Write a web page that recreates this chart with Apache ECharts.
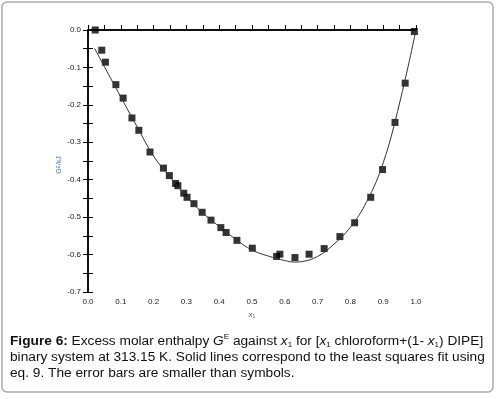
<!DOCTYPE html>
<html lang="en">

<head>
    <meta charset="UTF-8">
    <style>
    html,
    body {
        height: 100%;
        margin: 0;
        background: #fff;
    }
  </style>
</head>

<body>
<div id="chart" style="width:500px;height:399px;"></div>
<script src="https://cdn.jsdelivr.net/npm/echarts@6/dist/echarts.min.js"></script>
<script>
    // measured points: x1, G^E (kJ)
    var xPoints = [0.022, 0.042, 0.053, 0.085, 0.107, 0.134, 0.155, 0.189, 0.230, 0.248,
        0.267, 0.274, 0.292, 0.302, 0.323, 0.348, 0.375, 0.405, 0.421, 0.454,
        0.501, 0.575, 0.585, 0.631, 0.674, 0.720, 0.768, 0.813, 0.862, 0.898,
        0.936, 0.967, 0.995];
    var gPoints = [0.000, -0.054, -0.086, -0.146, -0.182, -0.235, -0.268, -0.326, -0.369, -0.389,
        -0.410, -0.416, -0.436, -0.447, -0.464, -0.487, -0.508, -0.528, -0.541, -0.562,
        -0.583, -0.605, -0.599, -0.608, -0.599, -0.584, -0.552, -0.515, -0.447, -0.373,
        -0.247, -0.142, -0.004];

    // fitted curve
    var xFit = [0.02, 0.05, 0.10, 0.15, 0.20, 0.25, 0.30, 0.35, 0.40, 0.45,
        0.50, 0.55, 0.60, 0.63, 0.65, 0.70, 0.75, 0.80, 0.85, 0.90, 0.95, 1.00];
    var gFit = [-0.049, -0.098, -0.179, -0.259, -0.337, -0.393, -0.445, -0.489, -0.525, -0.559,
        -0.588, -0.604, -0.616, -0.620, -0.619, -0.605, -0.572, -0.527, -0.458, -0.355, -0.195, 0.000];

    var pts = xPoints.map(function (x, i) { return [x, gPoints[i]]; });
    var fit = xFit.map(function (x, i) { return [x, gFit[i]]; });

    var tickFont = { fontFamily: 'Liberation Sans', fontSize: 8, color: '#222' };

    var myChart = echarts.init(document.getElementById('chart'));
    myChart.setOption({
        animation: false,
        grid: { left: 88, top: 30, width: 328, height: 262 },
        xAxis: [{
            type: 'value', min: 0, max: 1, interval: 0.1,
            position: 'bottom',
            axisLine: { lineStyle: { color: '#000', width: 1.5 } },
            axisTick: { inside: true, length: 5, lineStyle: { color: '#000' } },
            minorTick: { show: true, splitNumber: 2, length: 5, lineStyle: { color: '#000' } },
            splitLine: { show: false },
            axisLabel: Object.assign({ margin: 6, formatter: function (v) { return v.toFixed(1); } }, tickFont),
            name: '{i|x}{s|1}',
            nameLocation: 'middle',
            nameGap: 18,
            nameTextStyle: {
                rich: {
                    i: { fontFamily: 'Liberation Sans', fontStyle: 'italic', fontSize: 8, color: '#555' },
                    s: { fontFamily: 'Liberation Sans', fontSize: 5, color: '#555', verticalAlign: 'bottom', padding: [4, 0, 0, 0] }
                }
            }
        }, {
            type: 'value', min: 0, max: 1, position: 'top',
            axisLine: { lineStyle: { color: '#000', width: 1.5 } },
            axisTick: { show: false }, axisLabel: { show: false }, splitLine: { show: false }
        }],
        yAxis: [{
            type: 'value', min: -0.7, max: 0, interval: 0.1,
            position: 'left',
            axisLine: { lineStyle: { color: '#000', width: 1.5 } },
            axisTick: { inside: true, length: 5, lineStyle: { color: '#000' } },
            minorTick: { show: true, splitNumber: 2, length: 5, lineStyle: { color: '#000' } },
            splitLine: { show: false },
            axisLabel: Object.assign({ margin: 7, formatter: function (v) { return v.toFixed(1); } }, tickFont),
            name: '{g|G}{e|E}{g|/kJ}',
            nameLocation: 'middle',
            nameRotate: 90,
            nameGap: 25,
            nameMoveOverlap: false,
            nameTextStyle: {
                padding: [0, 8, 0, 0],
                rich: {
                    g: { fontFamily: 'Liberation Sans', fontSize: 7, color: '#4a78b0' },
                    e: { fontFamily: 'Liberation Sans', fontSize: 5, color: '#4a78b0', verticalAlign: 'top' }
                }
            }
        }, {
            type: 'value', min: -0.7, max: 0, interval: 0.05,
            position: 'right',
            axisLine: { lineStyle: { color: '#000', width: 1.5 } },
            axisTick: { inside: true, length: 5, lineStyle: { color: '#000' } },
            axisLabel: { show: false }, splitLine: { show: false }
        }],
        series: [{
            type: 'line',
            data: fit,
            smooth: 0.4,
            showSymbol: false,
            lineStyle: { color: '#333', width: 1 },
            silent: true
        }, {
            type: 'scatter',
            data: pts,
            symbol: 'rect',
            symbolSize: 7,
            itemStyle: { color: '#000' }
        }],
        graphic: [{
            type: 'rect',
            shape: { x: 2, y: 2, width: 491, height: 390, r: 5 },
            style: { fill: 'none', stroke: '#aaa', lineWidth: 1.5 },
            silent: true
        }, {
            type: 'text',
            left: 10,
            top: 333,
            style: {
                text: '{b|Figure 6:} Excess molar enthalpy {i|G}{sup|E} against {i|x}{sub|1} for [{i|x}{sub|1} chloroform+(1- {i|x}{sub|1}) DIPE]\n' +
                    'binary system at 313.15 K. Solid lines correspond to the least squares fit using\n' +
                    'eq. 9. The error bars are smaller than symbols.',
                fontFamily: 'Liberation Sans',
                fontSize: 13.7,
                lineHeight: 16,
                fill: '#111',
                rich: {
                    b: { fontWeight: 'bold', fontSize: 13.7, fontFamily: 'Liberation Sans', fill: '#111' },
                    i: { fontStyle: 'italic', fontSize: 13.7, fontFamily: 'Liberation Sans', fill: '#111' },
                    sup: { fontSize: 8, fontFamily: 'Liberation Sans', fill: '#111', verticalAlign: 'top', lineHeight: 16 },
                    sub: { fontSize: 8, fontFamily: 'Liberation Sans', fill: '#111', verticalAlign: 'bottom', lineHeight: 16 }
                }
            }
        }]
    });
</script>
</body>
</html>
